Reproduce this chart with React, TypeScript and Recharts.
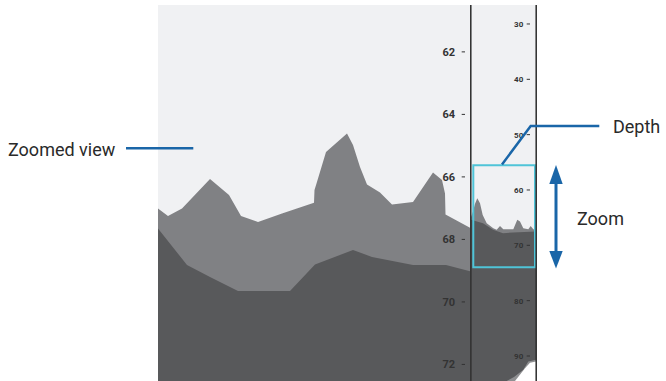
import { Area, AreaChart, ReferenceArea, XAxis, YAxis } from "recharts";

// zoomed panel (distance along track vs depth)
const MAIN_MID_X = [0, 10, 24, 52, 71, 83, 100, 124, 156, 156.5, 158.5, 168, 189, 195, 202, 209, 222, 234, 255, 275, 284, 287, 287.5, 312];
const MAIN_MID_D = [67.01, 67.25, 67.01, 66.07, 66.58, 67.25, 67.44, 67.17, 66.83, 66.42, 66.21, 65.2, 64.61, 64.98, 65.68, 66.24, 66.5, 66.88, 66.8, 65.86, 66.1, 66.53, 67.2, 67.63];
const MAIN_DARK_X = [0, 29, 52, 80, 132, 157, 195, 214, 255, 288, 312];
const MAIN_DARK_D = [67.65, 68.82, 69.2, 69.65, 69.65, 68.8, 68.34, 68.56, 68.82, 68.82, 69.02];
const MAIN_TICKS = [62, 64, 66, 68, 70, 72];
const MAIN_DOMAIN = [60.5, 72.53];

// overview panel
const OVER_MID_X = [0, 2, 4, 6.3, 9, 11.7, 15.7, 22.3, 25.7, 29, 32.3, 42.3, 46.3, 49, 52.3, 57.3, 59.7, 62.3, 65];
const OVER_MID_D = [64.9, 63.9, 62.5, 61.5, 62.4, 64.5, 66.0, 66.9, 67.2, 66.5, 67.1, 67.1, 65.4, 65.7, 66.9, 67.1, 66.5, 67.1, 67.2];
const OVER_DARK_X = [0, 12, 22, 32, 42, 65];
const OVER_DARK_D = [65.4, 66.0, 67.2, 67.8, 67.7, 67.5];
const OVER_SAND_X = [35.7, 43, 52.3, 57.3, 65];
const OVER_SAND_D = [94.5, 93.8, 92.5, 91.0, 90.7];
const OVER_ROCK_X = [44, 54, 59, 65];
const OVER_ROCK_D = [94.5, 92.2, 91.2, 91.0];
const OVER_TICKS = [30, 40, 50, 60, 70, 80, 90];
const OVER_DOMAIN = [26.57, 94.52];
const ZOOM_BOX = [55.54, 73.97];

type Series = { key: string; xs: number[]; ds: number[] };

// merge several x/depth lists into one table keyed by x
function buildTable(series: Series[]) {
  const xs = Array.from(new Set(series.flatMap((s) => s.xs))).sort((a, b) => a - b);
  return xs.map((x) => {
    const row: Record<string, number | null> = { x };
    series.forEach((s) => {
      const i = s.xs.indexOf(x);
      row[s.key] = i >= 0 ? s.ds[i] : null;
    });
    return row;
  });
}

const mainData = buildTable([
  { key: "mid", xs: MAIN_MID_X, ds: MAIN_MID_D },
  { key: "dark", xs: MAIN_DARK_X, ds: MAIN_DARK_D },
]);
const overData = buildTable([
  { key: "mid", xs: OVER_MID_X, ds: OVER_MID_D },
  { key: "dark", xs: OVER_DARK_X, ds: OVER_DARK_D },
  { key: "sand", xs: OVER_SAND_X, ds: OVER_SAND_D },
  { key: "rock", xs: OVER_ROCK_X, ds: OVER_ROCK_D },
]);

const BG = "#f0f1f3";
const MID = "#808184";
const DARK = "#58595b";
const INK = "#2b2b2b";
const BLUE = "#1a66a8";
const CYAN = "#4fc4d8";

function depthTick(right: number, size: number, gap: number, d1: number, d2: number) {
  return (props: any) => {
    const { y, payload } = props;
    return (
      <g>
        <text x={right - gap} y={y} dy={size * 0.36} textAnchor="end" fontSize={size} fontWeight="bold" fontFamily="Roboto" fill="#333">
          {payload.value}
        </text>
        <line x1={right - d1} x2={right - d2} y1={y} y2={y} stroke="#333" strokeWidth={1} />
      </g>
    );
  };
}

export default function App() {
  return (
    <div style={{ position: "absolute", left: 0, top: 0, width: 666, height: 381, overflow: "hidden", background: "#fff" }}>
      <div style={{ position: "absolute", left: 158, top: 5, width: 312, height: 376, background: BG }}>
        <AreaChart width={312} height={376} data={mainData} margin={{ top: 0, right: 0, bottom: 0, left: 0 }}>
          <XAxis type="number" dataKey="x" domain={[0, 312]} hide />
          <Area dataKey="mid" type="linear" baseValue="dataMax" fill={MID} fillOpacity={1} stroke="none" connectNulls dot={false} activeDot={false} isAnimationActive={false} />
          <Area dataKey="dark" type="linear" baseValue="dataMax" fill={DARK} fillOpacity={1} stroke="none" connectNulls dot={false} activeDot={false} isAnimationActive={false} />
          <YAxis
            orientation="right"
            mirror
            reversed
            type="number"
            domain={MAIN_DOMAIN}
            allowDataOverflow
            ticks={MAIN_TICKS}
            interval={0}
            axisLine={false}
            tickLine={false}
            tickSize={0}
            tick={depthTick(312, 11, 15, 8.3, 5)}
          />
        </AreaChart>
      </div>
      <div style={{ position: "absolute", left: 471, top: 5, width: 65, height: 376, background: BG }}>
        <AreaChart width={65} height={376} data={overData} margin={{ top: 0, right: 0, bottom: 0, left: 0 }}>
          <XAxis type="number" dataKey="x" domain={[0, 65]} hide />
          <Area dataKey="mid" type="linear" baseValue="dataMax" fill={MID} fillOpacity={1} stroke="none" connectNulls dot={false} activeDot={false} isAnimationActive={false} />
          <Area dataKey="dark" type="linear" baseValue="dataMax" fill={DARK} fillOpacity={1} stroke="none" connectNulls dot={false} activeDot={false} isAnimationActive={false} />
          <Area dataKey="sand" type="linear" baseValue="dataMax" fill="#8e8f91" fillOpacity={1} stroke="none" connectNulls dot={false} activeDot={false} isAnimationActive={false} />
          <Area dataKey="rock" type="linear" baseValue="dataMax" fill="#ffffff" fillOpacity={1} stroke="none" connectNulls dot={false} activeDot={false} isAnimationActive={false} />
          <YAxis
            orientation="right"
            mirror
            reversed
            type="number"
            domain={OVER_DOMAIN}
            allowDataOverflow
            ticks={OVER_TICKS}
            interval={0}
            axisLine={false}
            tickLine={false}
            tickSize={0}
            tick={depthTick(65, 8, 12.7, 9.3, 6)}
          />
          <ReferenceArea x1={2.3} x2={64} y1={ZOOM_BOX[0]} y2={ZOOM_BOX[1]} fill="none" fillOpacity={0} stroke={CYAN} strokeWidth={2} strokeOpacity={1} ifOverflow="visible" />
        </AreaChart>
      </div>
      <svg width={666} height={381} style={{ position: "absolute", left: 0, top: 0, pointerEvents: "none" }}>
        <line x1={470.8} x2={470.8} y1={5} y2={381} stroke={INK} strokeWidth={1.5} />
        <line x1={536.2} x2={536.2} y1={5} y2={381} stroke={INK} strokeWidth={1.5} />

        <text x={8} y={156} fontSize={18} fontFamily="Roboto" fill="#2a2a2a">Zoomed view</text>
        <line x1={126} x2={193.3} y1={148.3} y2={148.3} stroke={BLUE} strokeWidth={2.5} />

        <polyline points="599.3,126 530.7,126 502,164.5" fill="none" stroke={BLUE} strokeWidth={2.5} />
        <text x={613} y={133} fontSize={18} fontFamily="Roboto" fill="#2a2a2a">Depth</text>

        <line x1={556} x2={556} y1={180} y2={254} stroke={BLUE} strokeWidth={3} />
        <polygon points="556,165 549.3,184 562.7,184" fill={BLUE} />
        <polygon points="556,268.5 549.3,251 562.7,251" fill={BLUE} />
        <text x={577} y={225} fontSize={18} fontFamily="Roboto" fill="#2a2a2a">Zoom</text>
      </svg>
    </div>
  );
}
